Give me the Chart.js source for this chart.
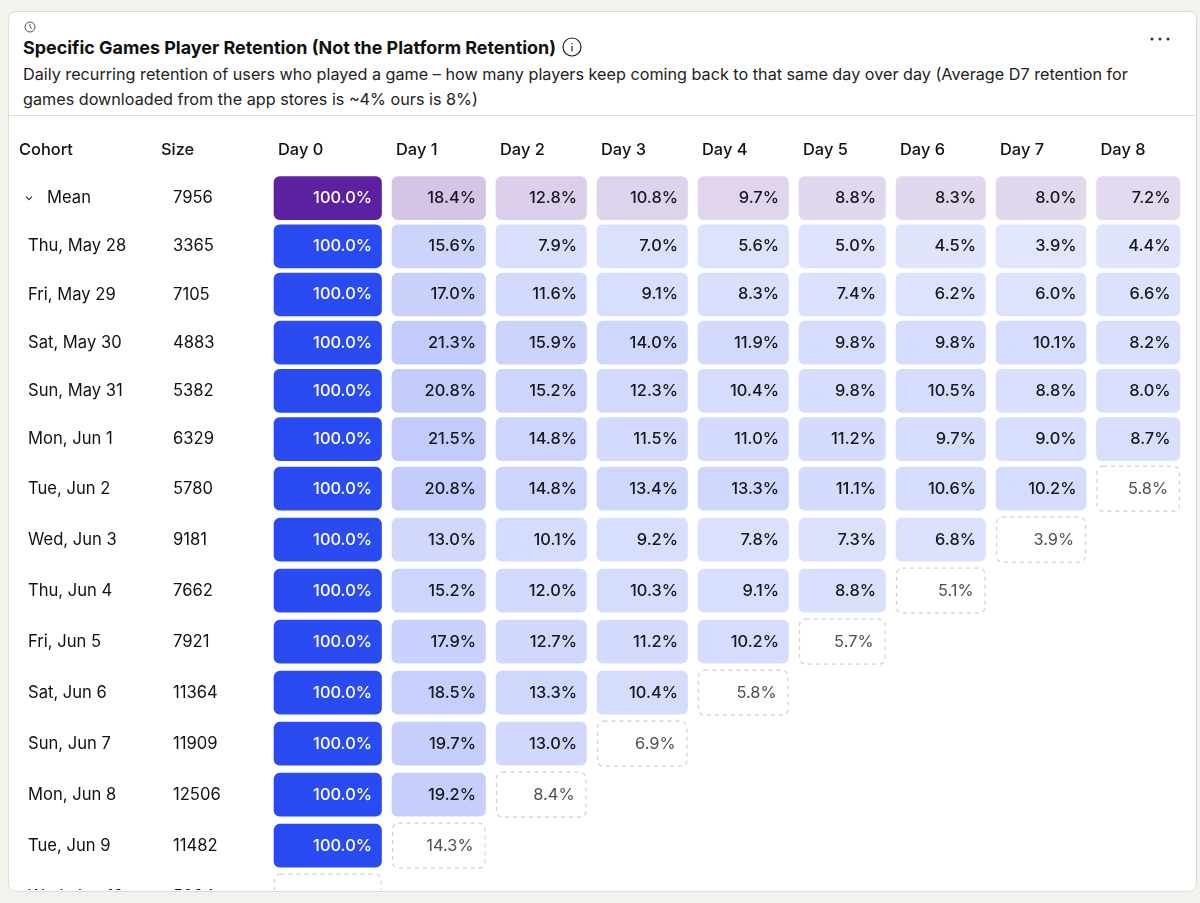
<!DOCTYPE html>
<html>
<head>
<meta charset="utf-8">
<title>Specific Games Player Retention</title>
<script src="https://cdn.jsdelivr.net/npm/chart.js@4/dist/chart.umd.min.js"></script>
<style>
	html, body { margin: 0; padding: 0; background: #f3f3ee; font-family: Inter, sans-serif; color: #111; }
	#card { position: absolute; left: 8px; top: 11px; width: 1187px; height: 879px; background: #fff; border: 1px solid #dcdcd8; border-radius: 8px; overflow: hidden; }
	#clock { position: absolute; left: 15px; top: 9px; }
	#title { position: absolute; left: 14px; top: 24px; font-size: 17.93px; line-height: 24px; font-weight: 700; white-space: nowrap; }
	#info { position: absolute; left: 553px; top: 25px; }
	#dots { position: absolute; left: 1139px; top: 24px; }
	#desc { position: absolute; left: 14px; top: 50px; width: 1135px; font-size: 16.2px; line-height: 25px; color: #222; }
	#rule { position: absolute; left: 0; right: 0; top: 103px; border-top: 1px solid #deded9; }
	#grafica { position: absolute; left: 0; top: 116px; z-index: 1; }
</style>
</head>
<body>
<div id="card">
	<svg id="clock" width="12" height="12" viewBox="0 0 12 12" fill="none" stroke="#555" stroke-width="1"><circle cx="6" cy="6" r="5"/><path d="M6 3v3l2 1.5"/></svg>
	<div id="title">Specific Games Player Retention (Not the Platform Retention)</div>
	<svg id="info" width="20" height="20" viewBox="0 0 20 20" fill="none" stroke="#222" stroke-width="1.2"><circle cx="10" cy="10" r="9"/><path d="M10 9v5.5M10 6v1.2"/></svg>
	<svg id="dots" width="24" height="6" viewBox="0 0 24 6" fill="#333"><circle cx="4" cy="3" r="1.5"/><circle cx="12" cy="3" r="1.5"/><circle cx="20" cy="3" r="1.5"/></svg>
	<div id="desc">Daily recurring retention of users who played a game – how many players keep coming back to that same day over day (Average D7 retention for games downloaded from the app stores is ~4% ours is 8%)</div>
	<div id="rule"></div>
</div>
<canvas id="grafica" width="1200" height="774"></canvas>
<script>
// data
var headers = ["Cohort", "Size", "Day 0", "Day 1", "Day 2", "Day 3", "Day 4", "Day 5", "Day 6", "Day 7", "Day 8"];
var cohorts = ["Mean", "Thu, May 28", "Fri, May 29", "Sat, May 30", "Sun, May 31", "Mon, Jun 1", "Tue, Jun 2", "Wed, Jun 3", "Thu, Jun 4", "Fri, Jun 5", "Sat, Jun 6", "Sun, Jun 7", "Mon, Jun 8", "Tue, Jun 9", "Wed, Jun 10"];
var sizes = [7956, 3365, 7105, 4883, 5382, 6329, 5780, 9181, 7662, 7921, 11364, 11909, 12506, 11482, 5204];

var mean = [100, 18.4, 12.8, 10.8, 9.7, 8.8, 8.3, 8.0, 7.2];
var may28 = [100, 15.6, 7.9, 7.0, 5.6, 5.0, 4.5, 3.9, 4.4];
var may29 = [100, 17.0, 11.6, 9.1, 8.3, 7.4, 6.2, 6.0, 6.6];
var may30 = [100, 21.3, 15.9, 14.0, 11.9, 9.8, 9.8, 10.1, 8.2];
var may31 = [100, 20.8, 15.2, 12.3, 10.4, 9.8, 10.5, 8.8, 8.0];
var jun1 = [100, 21.5, 14.8, 11.5, 11.0, 11.2, 9.7, 9.0, 8.7];
var jun2 = [100, 20.8, 14.8, 13.4, 13.3, 11.1, 10.6, 10.2, 5.8];
var jun3 = [100, 13.0, 10.1, 9.2, 7.8, 7.3, 6.8, 3.9];
var jun4 = [100, 15.2, 12.0, 10.3, 9.1, 8.8, 5.1];
var jun5 = [100, 17.9, 12.7, 11.2, 10.2, 5.7];
var jun6 = [100, 18.5, 13.3, 10.4, 5.8];
var jun7 = [100, 19.7, 13.0, 6.9];
var jun8 = [100, 19.2, 8.4];
var jun9 = [100, 14.3];
var jun10 = [100];
var rows = [mean, may28, may29, may30, may31, jun1, jun2, jun3, jun4, jun5, jun6, jun7, jun8, jun9, jun10];

// cohorts from this row on are still running, so their newest day is partial (dashed)
var firstRunningRow = 6;

// table layout, in canvas px: the scales below run 1:1 with these
var gridLeft = 274, cellGap = 10.5, headerInset = 4;
var columnSteps = [118, 104, 101, 101, 101, 97, 100, 100.5, 94];
var rowSteps = [48.2, 48.2, 48.2, 48.2, 48.2, 48.2, 51, 51, 51, 51, 51, 51, 51, 51, 51];
var headerHeight = 58;

var columnLefts = [], rowCenters = [];
columnSteps.reduce(function(left, step) { columnLefts.push(left); return left + step; }, gridLeft);
rowSteps.reduce(function(top, step) { rowCenters.push(top + step / 2); return top + step; }, 0);
var headerTicks = [19, 161].concat(columnLefts.map(function(left) { return left + headerInset; }));

function cellColor(row, value) {
	if (value === 100) return row === 0 ? "#5b21a0" : "#2b4bf2";
	var alpha = 0.11 + 0.0082 * value;
	return row === 0 ? "rgba(91,33,160," + alpha + ")" : "rgba(43,75,242," + alpha + ")";
}

// one dataset per day column
var datasets = columnSteps.map(function(step, d) {
	var cells = [];
	rows.forEach(function(values, r) {
		if (d < values.length) {
			cells.push({
				x: [columnLefts[d], columnLefts[d] + step - cellGap],
				y: rowCenters[r],
				value: values[d],
				row: r,
				partial: r >= firstRunningRow && d === values.length - 1
			});
		}
	});
	return {
		data: cells,
		grouped: false,
		barThickness: 43,
		borderRadius: 6,
		borderSkipped: false,
		backgroundColor: cells.map(function(c) { return c.partial ? "rgba(0,0,0,0)" : cellColor(c.row, c.value); })
	};
});

var tablaPlugin = {
	id: "tabla",
	afterDatasetsDraw: function(chart) {
		var ctx = chart.ctx, xs = chart.scales.x, ys = chart.scales.y;
		ctx.save();
		ctx.textBaseline = "middle";

		// bar labels and dashed outlines
		chart.data.datasets.forEach(function(ds, d) {
			chart.getDatasetMeta(d).data.forEach(function(bar, i) {
				var c = ds.data[i];
				var left = bar.base, right = bar.x, top = bar.y - 22, h = 45;
				if (c.partial) {
					ctx.strokeStyle = "#cfcfcf";
					ctx.lineWidth = 1.2;
					ctx.setLineDash([4, 4]);
					ctx.beginPath();
					ctx.roundRect(left + 0.5, top - 0.5, right - left - 1, h, 6);
					ctx.stroke();
					ctx.setLineDash([]);
				}
				ctx.font = (c.partial ? "400" : "500") + " 16.4px Inter";
				ctx.textAlign = "right";
				ctx.fillStyle = c.partial ? "#505050" : (c.value === 100 ? "#ffffff" : "#17171f");
				ctx.fillText(c.value.toFixed(1) + "%", right - (c.partial ? 12 : 9.5), bar.y);
			});
		});

		// cohort and size columns
		ctx.textAlign = "left";
		ctx.fillStyle = "#111";
		ctx.font = "400 16.6px Inter";
		cohorts.forEach(function(name, r) {
			var y = ys.getPixelForValue(rowCenters[r]);
			ctx.fillText(name, xs.getPixelForValue(r === 0 ? 47 : 28), y);
			ctx.fillText(String(sizes[r]), xs.getPixelForValue(173), y);
		});

		// chevron on the mean row
		var cy = ys.getPixelForValue(rowCenters[0]), cx = xs.getPixelForValue(29);
		ctx.strokeStyle = "#333";
		ctx.lineWidth = 1.2;
		ctx.beginPath();
		ctx.moveTo(cx - 3, cy - 1.5);
		ctx.lineTo(cx, cy + 1.5);
		ctx.lineTo(cx + 3, cy - 1.5);
		ctx.stroke();
		ctx.restore();
	}
};

var myChart = new Chart(document.getElementById("grafica"), {
	type: "bar",
	data: { datasets: datasets },
	plugins: [tablaPlugin],
	options: {
		indexAxis: "y",
		responsive: false,
		animation: false,
		devicePixelRatio: 1,
		layout: { padding: 0 },
		plugins: { legend: { display: false }, tooltip: { enabled: false } },
		scales: {
			x: {
				type: "linear",
				position: "top",
				min: 0,
				max: 1200,
				border: { display: false },
				grid: { display: false, drawTicks: false },
				afterBuildTicks: function(scale) {
					scale.ticks = headerTicks.map(function(v) { return { value: v }; });
				},
				afterFit: function(scale) {
					scale.height = headerHeight;
					scale.paddingLeft = 0;
					scale.paddingRight = 0;
				},
				ticks: {
					autoSkip: false,
					maxRotation: 0,
					minRotation: 0,
					align: "start",
					padding: 14,
					color: "#111",
					font: { family: "Inter", size: 16.4, weight: "500" },
					callback: function(value, index) { return headers[index]; }
				}
			},
			y: {
				type: "linear",
				display: false,
				offset: false,
				reverse: true,
				min: 0,
				max: 716
			}
		}
	}
});
</script>
</body>
</html>
